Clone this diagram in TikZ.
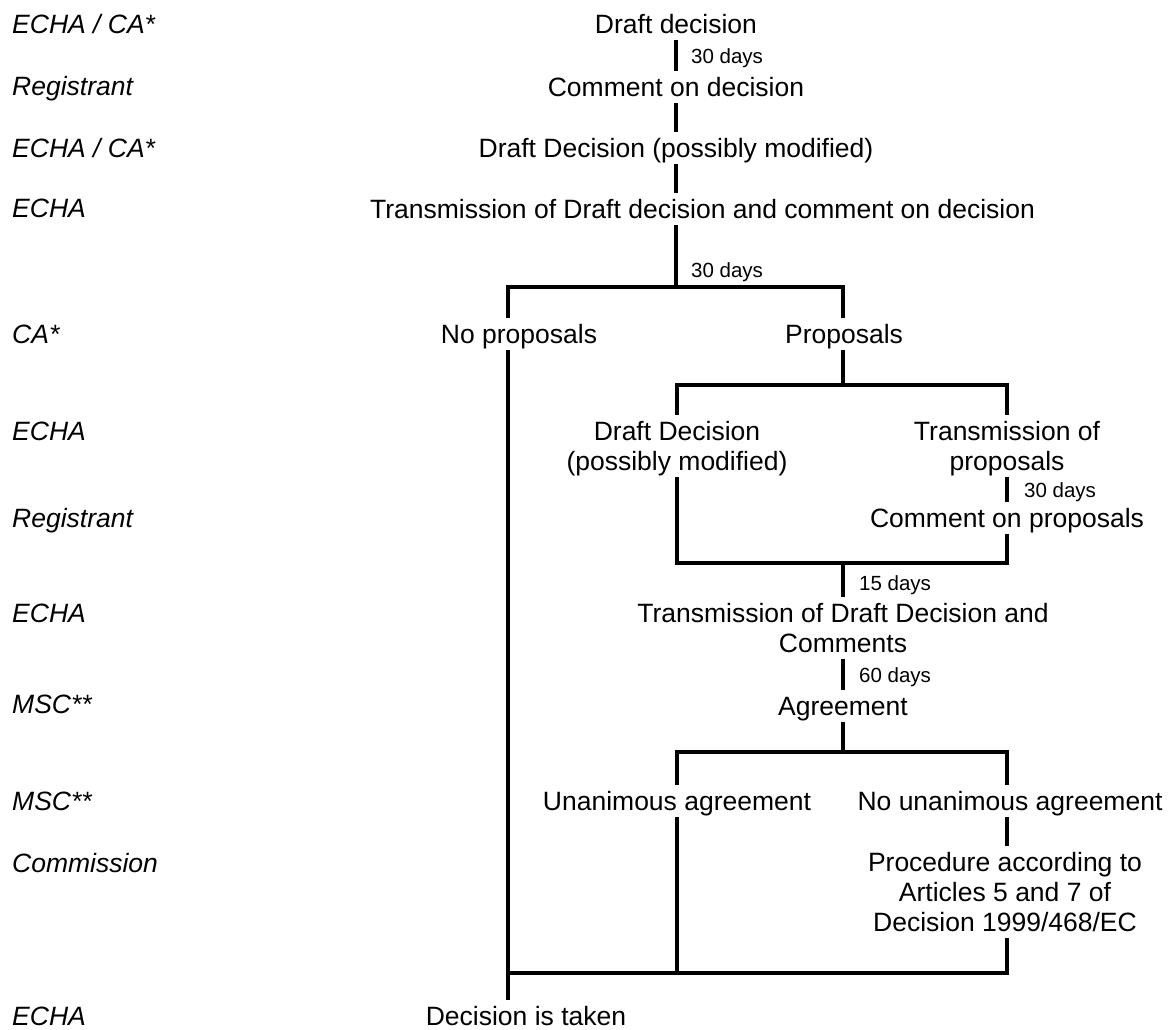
\documentclass[tikz,border=0pt]{standalone}
\usepackage{fontspec}
\setmainfont{Liberation Sans}
\usetikzlibrary{calc}
\newcommand\mytop{\rule{0pt}{25pt}}
\newcommand\mybot{\rule[-7pt]{0pt}{7pt}}
\begin{document}
\begin{tikzpicture}[x=1pt,y=-1pt,
  flow/.style={line width=4.5pt},
  stage/.style={inner sep=0pt,anchor=north,align=center,font={\fontsize{26.5}{30}\selectfont}},
  actor/.style={inner sep=0pt,anchor=base west,font={\fontsize{26.5}{30}\selectfont\itshape}},
  days/.style={inner sep=0pt,anchor=base west,font={\fontsize{20.5}{24}\selectfont}}]
\useasboundingbox (0,0) rectangle (1168,1029);

% actors (left column)
\node[actor] (a1) at (12,33) {ECHA / CA*};
\node[actor] (a2) at (12,95) {Registrant};
\node[actor] (a3) at (12,157) {ECHA / CA*};
\node[actor] (a4) at (12,217) {ECHA};
\node[actor] (a5) at (12,343) {CA*};
\node[actor] (a6) at (12,440) {ECHA};
\node[actor] (a7) at (12,527) {Registrant};
\node[actor] (a8) at (12,622) {ECHA};
\node[actor] (a9) at (12,713) {MSC**};
\node[actor] (a10) at (12,810) {MSC**};
\node[actor] (a11) at (12,872) {Commission};
\node[actor] (a12) at (12,1025) {ECHA};

% stages
\node[stage] (dd) at (676,8) {\mytop Draft decision\mybot};
\node[stage] (cd) at (676,71) {\mytop Comment on decision\mybot};
\node[stage] (ddm) at (676,132) {\mytop Draft Decision (possibly modified)\mybot};
\node[stage] (tr) at (702.5,193) {\mytop Transmission of Draft decision and comment on decision\mybot};
\node[stage] (np) at (519,318) {\mytop No proposals\mybot};
\node[stage] (pr) at (844,318) {\mytop Proposals\mybot};
\node[stage] (dd2) at (677,415) {\mytop Draft Decision\\(possibly modified)\mybot};
\node[stage] (tp) at (1007,415) {\mytop Transmission of\\proposals\mybot};
\node[stage] (cp) at (1007,502) {\mytop Comment on proposals\mybot};
\node[stage] (tdc) at (843,597) {\mytop Transmission of Draft Decision and\\Comments\mybot};
\node[stage] (ag) at (843,690) {\mytop Agreement\mybot};
\node[stage] (ua) at (677,785) {\mytop Unanimous agreement\mybot};
\node[stage] (nua) at (1010,785) {\mytop No unanimous agreement\mybot};
\node[stage] (proc) at (1005,846) {\mytop Procedure according to\\Articles 5 and 7 of\\Decision 1999/468/EC\mybot};
\node[stage] (dit) at (526,1000) {\mytop Decision is taken\mybot};

% durations
\node[days] (t1) at (691,63) {30 days};
\node[days] (t2) at (691,277) {30 days};
\node[days] (t3) at (1024,497) {30 days};
\node[days] (t4) at (859,590) {15 days};
\node[days] (t5) at (859,682) {60 days};

% junctions
\coordinate (j1) at (676,287);
\coordinate (j2) at (843,385);
\coordinate (j3) at (843,563);
\coordinate (j4) at (843,752);
\coordinate (j5) at (508,973);

% connectors
\draw[flow] (dd.south) -- (cd.north);
\draw[flow] (cd.south) -- (ddm.north);
\draw[flow] (ddm.south) -- (ddm.south |- tr.north);
\draw[flow] (tr.south -| j1) -- (j1);
\draw[flow] (np.north -| j5) |- (j1) -| (pr.north -| j2);
\draw[flow] (pr.south -| j2) -- (j2);
\draw[flow] (np.south -| j5) -- (j5) -- (j5 |- dit.north);
\draw[flow] (dd2.north) |- (j2) -| (tp.north);
\draw[flow] (tp.south) -- (cp.north);
\draw[flow] (dd2.south) |- (j3) -| (cp.south);
\draw[flow] (j3) -- (tdc.north);
\draw[flow] (tdc.south) -- (ag.north);
\draw[flow] (ag.south) -- (j4);
\draw[flow] (ua.north) |- (j4) -| (nua.north -| cp.south);
\draw[flow] (nua.south -| cp.south) -- (proc.north -| cp.south);
\draw[flow] (ua.south) -- (ua.south |- j5);
\draw[flow] (proc.south -| cp.south) |- (j5);
\end{tikzpicture}
\end{document}
